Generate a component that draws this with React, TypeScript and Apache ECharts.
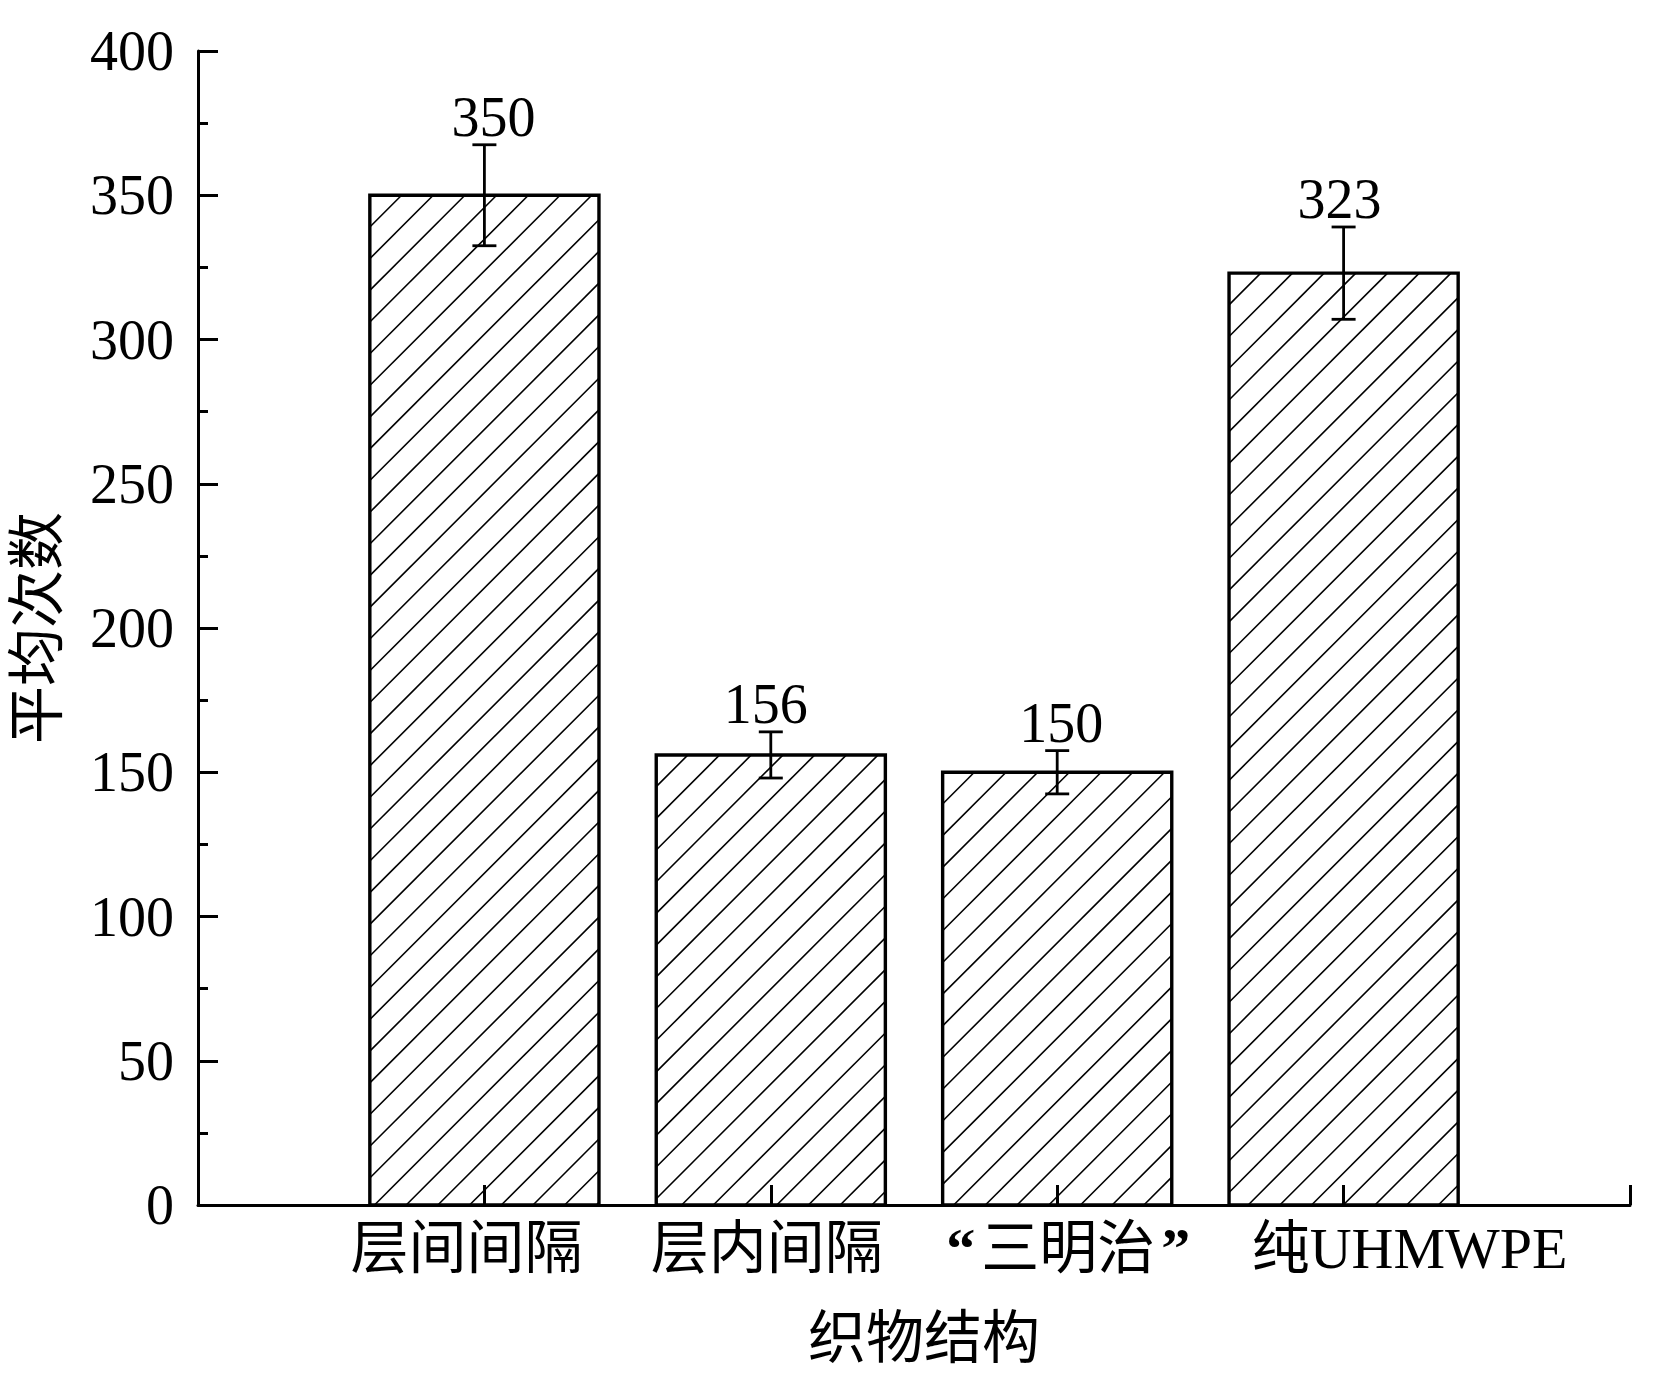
import React, { useEffect, useRef } from 'react';
import * as echarts from 'echarts';

// ---- data ----
const categories = ['层间间隔', '层内间隔', '“三明治”', '纯UHMWPE'];
const meanCounts = [350, 156, 150, 323];
const errorValues = [17.5, 8, 7.5, 16];
const yTicks = [0, 50, 100, 150, 200, 250, 300, 350, 400];
const xAxisName = '织物结构';
const yAxisName = '平均次数';

// ---- layout / style (not data) ----
const labelShift = [-18, -4, 9, 66];
const valueLabelShift = [9, -5, 4, -4];
const SERIF = '"Liberation Serif", "Times New Roman", "Noto Sans CJK SC", serif';
const CJK = '"Liberation Serif", "Noto Sans CJK SC", sans-serif';

export default function App() {
  const ref = useRef<HTMLDivElement>(null);

  useEffect(() => {
    document.body.style.margin = '0';
    if (!ref.current) return;
    const chart = echarts.init(ref.current, null, { renderer: 'svg' });

    const seriesData = meanCounts.map((v, i) => [i + 1, v, errorValues[i], valueLabelShift[i]]);

    const base = { fontSize: 58, fontFamily: CJK, color: '#000' };
    const rich: Record<string, any> = {};
    labelShift.forEach((s, i) => {
      rich['c' + i] = {
        ...base,
        padding: s < 0 ? [0, -2 * s, 0, 0] : [0, 0, 0, 2 * s],
      };
    });
    rich.mid = { ...base };
    rich.ql = { ...base, fontWeight: 'bold', padding: [0, 6, 0, 2 * labelShift[2] + 4] };
    rich.qr = { ...base, fontWeight: 'bold', padding: [0, 0, 0, 6] };

    const formatCategory = (i: number) => {
      const t = categories[i];
      if (t.startsWith('“') && t.endsWith('”')) {
        return `{ql|“}{mid|${t.slice(1, -1)}}{qr|”}`;
      }
      return `{c${i}|${t}}`;
    };

    const option: any = {
      animation: false,
      backgroundColor: '#fff',
      grid: { left: 198, right: 24, top: 51, bottom: 184, containLabel: false },
      xAxis: {
        type: 'value',
        min: 0,
        max: categories.length + 1,
        interval: 1,
        z: 10,
        name: xAxisName,
        nameLocation: 'middle',
        nameGap: 104,
        nameTextStyle: { fontSize: 58, fontFamily: CJK, color: '#000', padding: [0, 0, 0, 20] },
        axisLine: { show: true, onZero: false, lineStyle: { color: '#000', width: 3 } },
        axisTick: { show: true, inside: true, length: 20, lineStyle: { color: '#000', width: 3 } },
        splitLine: { show: false },
        axisLabel: {
          margin: 14,
          color: '#000',
          fontSize: 58,
          fontFamily: CJK,
          showMinLabel: true,
          showMaxLabel: true,
          formatter: (v: number) => {
            const i = Math.round(v) - 1;
            if (i < 0 || i >= categories.length) return '';
            return formatCategory(i);
          },
          rich,
        },
      },
      yAxis: {
        type: 'value',
        min: yTicks[0],
        max: yTicks[yTicks.length - 1],
        interval: yTicks[1] - yTicks[0],
        z: 10,
        name: yAxisName,
        nameLocation: 'middle',
        nameRotate: 90,
        nameGap: 132,
        nameTextStyle: { fontSize: 58, fontFamily: CJK, color: '#000' },
        axisLine: { show: true, lineStyle: { color: '#000', width: 3 } },
        axisTick: { show: true, inside: true, length: 20, lineStyle: { color: '#000', width: 3 } },
        minorTick: { show: true, splitNumber: 2, length: 10, lineStyle: { color: '#000', width: 3 } },
        splitLine: { show: false },
        minorSplitLine: { show: false },
        axisLabel: { margin: 24, color: '#000', fontSize: 56, fontFamily: SERIF },
      },
      series: [
        {
          type: 'custom',
          clip: false,
          data: seriesData,
          renderItem: (params: any, api: any) => {
            const xv = api.value(0);
            const yv = api.value(1);
            const ev = api.value(2);
            const lshift = api.value(3);
            const topPt = api.coord([xv, yv]);
            const basePt = api.coord([xv, 0]);
            const w = api.size([0.8, 0])[0];
            const cx = topPt[0];
            const L = cx - w / 2;
            const R = cx + w / 2;
            const T = topPt[1];
            const B = basePt[1];
            const children: any[] = [];
            children.push({
              type: 'rect',
              shape: { x: L, y: T, width: w, height: B - T },
              style: { fill: '#fff', stroke: 'none' },
            });
            const step = 31.7;
            for (let c = L + T + step; c < R + B; c += step) {
              const xa = Math.max(L, c - B);
              const xb = Math.min(R, c - T);
              if (xb - xa < 0.5) continue;
              children.push({
                type: 'line',
                shape: { x1: xa, y1: c - xa, x2: xb, y2: c - xb },
                style: { stroke: '#000', lineWidth: 1.6 },
              });
            }
            children.push({
              type: 'rect',
              shape: { x: L, y: T, width: w, height: B - T },
              style: { fill: 'none', stroke: '#000', lineWidth: 3.4 },
            });
            const eTop = api.coord([xv, yv + ev])[1];
            const eBot = api.coord([xv, yv - ev])[1];
            const cap = 12;
            children.push({
              type: 'line',
              shape: { x1: cx, y1: eTop, x2: cx, y2: eBot },
              style: { stroke: '#000', lineWidth: 2.8 },
            });
            children.push({
              type: 'line',
              shape: { x1: cx - cap, y1: eTop, x2: cx + cap, y2: eTop },
              style: { stroke: '#000', lineWidth: 2.8 },
            });
            children.push({
              type: 'line',
              shape: { x1: cx - cap, y1: eBot, x2: cx + cap, y2: eBot },
              style: { stroke: '#000', lineWidth: 2.8 },
            });
            children.push({
              type: 'text',
              x: cx + lshift,
              y: eTop - 28,
              style: {
                text: String(yv),
                fontSize: 56,
                fontFamily: SERIF,
                fill: '#000',
                align: 'center',
                verticalAlign: 'middle',
              },
            });
            return { type: 'group', children };
          },
        },
      ],
    };

    chart.setOption(option);
    return () => chart.dispose();
  }, []);

  return (
    <div
      ref={ref}
      style={{ position: 'absolute', left: 0, top: 0, width: 1654, height: 1389, background: '#fff' }}
    />
  );
}
